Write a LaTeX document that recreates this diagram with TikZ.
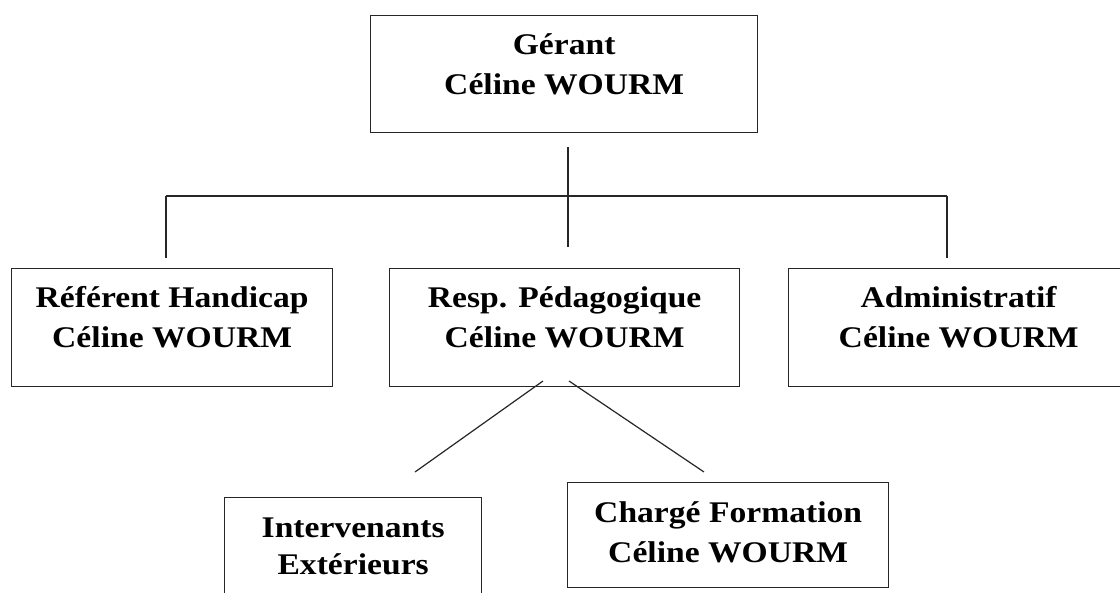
\documentclass[tikz,border=0pt]{standalone}
\usepackage{fontspec}
\setmainfont{Liberation Serif}[FakeStretch=1.12]
\usetikzlibrary{calc}
\begin{document}
\begin{tikzpicture}[x=1pt,y=-1pt,
  box/.style={draw=black!85, line width=1.3pt, fill=none, inner sep=0pt, anchor=north west},
  txt/.style={font=\fontsize{30}{40}\selectfont\bfseries, anchor=base, inner sep=0pt, text=black},
  conn/.style={draw=black!85, line width=1.2pt}]
\useasboundingbox (0,0) rectangle (1120,593);
\clip (0,0) rectangle (1120,593);
\fill[white] (0,0) rectangle (1120,593);
% boxes
\node[box, minimum width=387pt, minimum height=117pt] (gerant) at (370,15) {};
\node[box, minimum width=321pt, minimum height=118pt] (referent) at (11,268) {};
\node[box, minimum width=350pt, minimum height=118pt] (resp) at (389,268) {};
\node[box, minimum width=340pt, minimum height=118pt] (admin) at (788,268) {};
\node[box, minimum width=257pt, minimum height=120pt] (interv) at (224,497) {};
\node[box, minimum width=321pt, minimum height=105pt] (charge) at (567,482) {};
% texts
\node[txt] (gerant1) at ($(gerant.north)+(0,40)$) {Gérant};
\node[txt] (gerant2) at ($(gerant.north)+(0,80)$) {Céline WOURM};
\node[txt] (referent1) at ($(referent.north)+(0,40)$) {Référent Handicap};
\node[txt] (referent2) at ($(referent.north)+(0,80)$) {Céline WOURM};
\node[txt] (resp1) at ($(resp.north)+(0,40)$) {Resp. Pédagogique};
\node[txt] (resp2) at ($(resp.north)+(0,80)$) {Céline WOURM};
\node[txt] (admin1) at ($(admin.north)+(0,40)$) {Administratif};
\node[txt] (admin2) at ($(admin.north)+(0,80)$) {Céline WOURM};
\node[txt] (interv1) at ($(interv.north)+(0,40)$) {Intervenants};
\node[txt] (interv2) at ($(interv.north)+(0,78)$) {Extérieurs};
\node[txt] (charge1) at ($(charge.north)+(0,40)$) {Chargé Formation};
\node[txt] (charge2) at ($(charge.north)+(0,80)$) {Céline WOURM};
% connector coordinates
\coordinate (gtop) at (568,147);
\coordinate (gbot) at (568,247);
\coordinate (hl) at (166,196);
\coordinate (hr) at (947,196);
\coordinate (lend) at (166,258);
\coordinate (rend) at (947,258);
\coordinate (d1s) at (543,381);
\coordinate (d1e) at (415,472);
\coordinate (d2s) at (569,381);
\coordinate (d2e) at (704,472);
% connectors
\draw[conn] (gtop) -- (gbot);
\draw[conn] (hl) -- (hr);
\draw[conn] (hl) -- (lend);
\draw[conn] (hr) -- (rend);
\draw[conn] (d1s) -- (d1e);
\draw[conn] (d2s) -- (d2e);
\end{tikzpicture}
\end{document}
